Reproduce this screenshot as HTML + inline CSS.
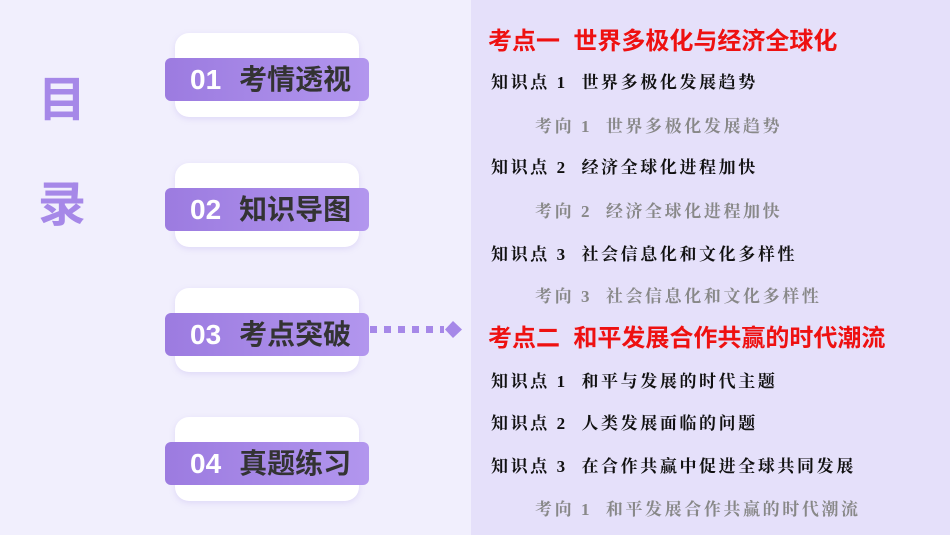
<!DOCTYPE html>
<html><head><meta charset="utf-8"><style>
body{margin:0;width:950px;height:535px;overflow:hidden;background:#f1effd;position:relative;font-family:"Liberation Sans","Noto Sans CJK SC",sans-serif}
.panel{position:absolute;left:471px;top:0;width:479px;height:535px;background:#e5e0fa}
.mu{position:absolute;left:38px;font-size:48px;font-weight:bold;color:#a688e8}
.btn{position:absolute;left:165px;width:204px;height:84px}
.btn .w{position:absolute;left:10px;width:184px;height:84px;top:0;background:#fff;border-radius:14px;box-shadow:0 2px 6px rgba(170,150,230,.25)}
.btn .b{position:absolute;left:0;top:25px;width:204px;height:43px;background:linear-gradient(90deg,#9c7be0,#b296ee);border-radius:6px;font-weight:bold;font-size:28px;line-height:43px;color:#333;white-space:nowrap}
.btn .b span{color:#fff;margin:0 18px 0 25px}
.t{position:absolute;white-space:nowrap}
.r{left:488px;color:#ee1111;font-weight:bold;font-size:24px}
.k{left:491px;color:#111;font-weight:bold;font-size:17px;font-family:"Liberation Serif","Noto Serif CJK SC",serif;letter-spacing:2.6px}
.g{left:535px;color:#888;font-weight:bold;font-size:17px;font-family:"Liberation Serif","Noto Serif CJK SC",serif;letter-spacing:2.6px}
</style></head><body>
<div class="panel"></div>
<div class="mu" style="top:60px">目</div>
<div class="mu" style="top:165px">录</div>
<div class="btn" style="top:33px"><div class="w"></div><div class="b"><span>01</span>考情透视</div></div>
<div class="btn" style="top:163px"><div class="w"></div><div class="b"><span>02</span>知识导图</div></div>
<div class="btn" style="top:288px"><div class="w"></div><div class="b"><span>03</span>考点突破</div></div>
<div class="btn" style="top:417px"><div class="w"></div><div class="b"><span>04</span>真题练习</div></div>
<svg style="position:absolute;left:370px;top:318px" width="95" height="24">
<g fill="#a688e8"><rect x="0" y="8" width="7" height="7"/><rect x="14" y="8" width="7" height="7"/><rect x="28" y="8" width="7" height="7"/><rect x="42" y="8" width="7" height="7"/><rect x="56" y="8" width="7" height="7"/><rect x="70" y="8" width="4" height="7"/><polygon points="75,11.5 83,3 92,11.5 83,20"/></g></svg>
<div class="t r" style="top:21px">考点一&nbsp; 世界多极化与经济全球化</div>
<div class="t k" style="top:68px">知识点 1&nbsp; 世界多极化发展趋势</div>
<div class="t g" style="top:112px">考向 1&nbsp; 世界多极化发展趋势</div>
<div class="t k" style="top:153px">知识点 2&nbsp; 经济全球化进程加快</div>
<div class="t g" style="top:197px">考向 2&nbsp; 经济全球化进程加快</div>
<div class="t k" style="top:240px">知识点 3&nbsp; 社会信息化和文化多样性</div>
<div class="t g" style="top:282px">考向 3&nbsp; 社会信息化和文化多样性</div>
<div class="t r" style="top:318px">考点二&nbsp; 和平发展合作共赢的时代潮流</div>
<div class="t k" style="top:367px">知识点 1&nbsp; 和平与发展的时代主题</div>
<div class="t k" style="top:409px">知识点 2&nbsp; 人类发展面临的问题</div>
<div class="t k" style="top:452px">知识点 3&nbsp; 在合作共赢中促进全球共同发展</div>
<div class="t g" style="top:495px">考向 1&nbsp; 和平发展合作共赢的时代潮流</div>
</body></html>
